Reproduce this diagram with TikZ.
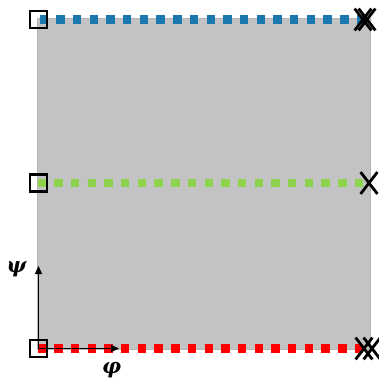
\documentclass[tikz,border=0pt]{standalone}
\usepackage{fontspec}
\newfontfamily\greekfont{DejaVu Serif}
\usetikzlibrary{shapes.misc,arrows.meta}
\definecolor{bgray}{HTML}{C3C3C3}
\definecolor{edgegray}{HTML}{B4B4B4}
\definecolor{lblue}{HTML}{1B78AE}
\definecolor{lgreen}{HTML}{8ED24F}
\definecolor{lred}{HTML}{FF0000}
\tikzset{
  sqmark/.style={draw=black, line width=2.6pt, minimum size=17pt, inner sep=0pt, fill=none},
  xmark/.style={cross out, draw=black, line width=2.8pt, minimum width=14pt, minimum height=19pt, inner sep=0pt},
  dotline/.style={line width=8.5pt, dash pattern=on 8.4pt off 8.3pt},
  axisarrow/.style={line width=1.3pt, -{Triangle[length=8pt,width=7pt]}},
  axlabel/.style={font=\greekfont\bfseries\itshape\fontsize{21}{25}\selectfont, inner sep=0pt}
}
\begin{document}
\begin{tikzpicture}[x=1pt,y=-1pt]
\useasboundingbox (0,0) rectangle (379,380);
\node[draw=edgegray, line width=0.8pt, fill=bgray, minimum width=333pt, minimum height=331pt, inner sep=0pt, anchor=north west] (box) at (37,18) {};
% positions
\coordinate (sqBpos) at (38.5,19.5);
\coordinate (sqGpos) at (38.5,183);
\coordinate (sqRpos) at (38.5,348.5);
\coordinate (xBpos) at (363,19.5);
\coordinate (xGpos) at (369,183);
\coordinate (xRpos) at (364,348.5);
% dotted lines
\draw[dotline, lblue] ([xshift=1pt]sqBpos) -- (xBpos);
\draw[dotline, lgreen] ([xshift=-1pt]sqGpos) -- (xGpos);
\draw[dotline, lred] ([xshift=-1pt]sqRpos) -- (xRpos);
% axes
\coordinate (psitip) at (38.5,266);
\coordinate (phitip) at (119,348.5);
\draw[axisarrow] (sqRpos) -- (psitip);
\draw[axisarrow] (sqRpos) -- (phitip);
\node[axlabel] (psi) at (16.5,269) {ψ};
\node[axlabel] (phi) at (111.5,370) {φ};
% squares on top
\node[sqmark] (sqB) at (sqBpos) {};
\node[sqmark] (sqG) at (sqGpos) {};
\node[sqmark] (sqR) at (sqRpos) {};
% end markers
\node[xmark] (xB1) at (xBpos) {};
\node[xmark] (xB2) at ([xshift=4pt]xBpos) {};
\node[xmark] (xG) at (xGpos) {};
\node[xmark] (xR1) at (xRpos) {};
\node[xmark] (xR2) at ([xshift=8pt]xRpos) {};
\end{tikzpicture}
\end{document}
